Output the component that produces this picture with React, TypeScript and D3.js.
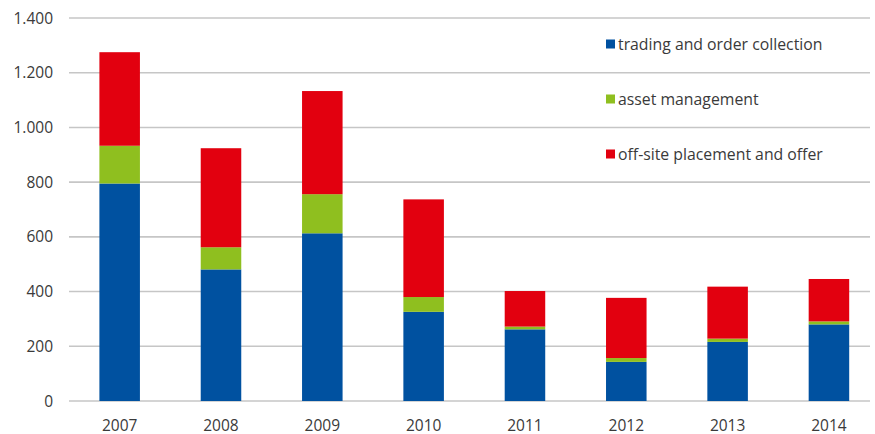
import React from "react";
import * as d3 from "d3";

const years = ["2007", "2008", "2009", "2010", "2011", "2012", "2013", "2014"];
const trading = [795, 481, 613, 326, 262, 143, 216, 280];
const asset = [138, 81, 143, 54, 10, 14, 12, 11];
const offsite = [342, 362, 377, 357, 130, 220, 190, 155];
const seriesNames = ["trading and order collection", "asset management", "off-site placement and offer"];
const seriesColors = ["#0051a0", "#8fbf1f", "#e2000f"];
const yTicks = [0, 200, 400, 600, 800, 1000, 1200, 1400];

const W = 875;
const H = 434;

export default function App() {
  const x = d3.scaleBand<string>().domain(years).range([69, 879.6]).paddingInner(0.6).paddingOuter(0.3);
  const y = d3.scaleLinear().domain([0, 1400]).range([401, 18]);
  const fmt = (v: number) => d3.format(",")(v).replace(/,/g, ".");

  const rows = years.map((yr, i) => ({ year: yr, s0: trading[i], s1: asset[i], s2: offsite[i] }));
  const stack = d3.stack<any>().keys(["s0", "s1", "s2"])(rows);

  const font = "'Open Sans', 'Noto Sans', sans-serif";

  return (
    <svg width={W} height={H} style={{ position: "absolute", left: 0, top: 0, background: "#fff" }}>
      <g>
        {yTicks.map((t) => (
          <g key={t}>
            <line x1={69} x2={870} y1={y(t)} y2={y(t)} stroke="#c6c6c6" strokeWidth={1.6} />
            <text x={53} y={y(t)} dy="0.36em" textAnchor="end" fontSize={15.5} fill="#3a3a3a" fontFamily={font}>
              {fmt(t)}
            </text>
          </g>
        ))}
      </g>
      <g>
        {stack.map((layer, li) => (
          <g key={li} fill={seriesColors[li]}>
            {layer.map((d, i) => (
              <rect
                key={i}
                x={x(years[i])}
                width={x.bandwidth()}
                y={y(d[1])}
                height={y(d[0]) - y(d[1])}
              />
            ))}
          </g>
        ))}
      </g>
      <g>
        {years.map((yr) => (
          <text key={yr} x={(x(yr) as number) + x.bandwidth() / 2} y={430.5} textAnchor="middle" fontSize={15.5} fill="#3a3a3a" fontFamily={font}>
            {yr}
          </text>
        ))}
      </g>
      <g>
        {seriesNames.map((name, i) => {
          const cy = 44 + i * 55;
          return (
            <g key={name}>
              <rect x={606} y={cy - 4.5} width={9} height={9} fill={seriesColors[i]} />
              <text x={618} y={cy} dy="0.35em" fontSize={15.8} fill="#3a3a3a" fontFamily={font}>
                {name}
              </text>
            </g>
          );
        })}
      </g>
    </svg>
  );
}
